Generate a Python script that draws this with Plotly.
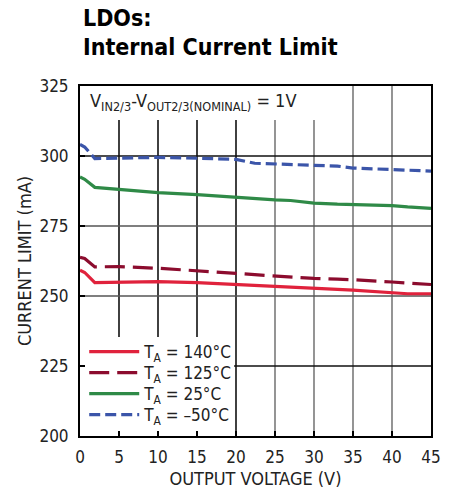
import plotly.graph_objects as go

# Output voltage (V) sample points
vout = [0, 0.6, 1.9, 5, 10, 15, 20, 22.4, 25, 27, 30, 33, 35, 40, 42, 45]

# Current limit (mA) per ambient temperature
i_140 = [259.2, 258.4, 254.8, 255.0, 255.1, 254.8, 254.2, 253.7, 253.4, 253.2, 252.9, 252.4, 252.1, 251.3, 250.8, 250.8]
i_125 = [263.8, 263.4, 260.4, 260.5, 259.9, 259.1, 258.1, 257.6, 257.1, 256.8, 256.3, 256.0, 255.8, 255.0, 254.7, 254.1]
i_25 = [292.5, 291.7, 288.8, 288.0, 286.9, 286.2, 285.2, 284.8, 284.3, 284.1, 283.2, 282.8, 282.6, 282.3, 281.8, 281.3]
i_m50 = [304.1, 303.2, 299.1, 299.3, 299.5, 299.2, 298.8, 297.4, 297.1, 296.9, 296.6, 296.4, 295.7, 295.2, 294.9, 294.6]

x_ticks = [0, 5, 10, 15, 20, 25, 30, 35, 40, 45]
y_ticks = [200, 225, 250, 275, 300, 325]

series = [
    ("T<sub>A</sub> = 140°C", i_140, "#e0223c", "solid"),
    ("T<sub>A</sub> = 125°C", i_125, "#8c0c2e", "20px,8px"),
    ("T<sub>A</sub> = 25°C", i_25, "#2f8a47", "solid"),
    ("T<sub>A</sub> = –50°C", i_m50, "#3b55a9", "11px,5px"),
]

FONT = "DejaVu Sans Condensed, Liberation Sans Narrow, Arial Narrow, sans-serif"

# one single-entry legend per curve so the rows can sit tightly stacked
legend_names = ["legend", "legend2", "legend3", "legend4"]
legend_rows = [0.24, 0.18, 0.12, 0.06]

fig = go.Figure()
for (name, vals, color, dash), lg in zip(series, legend_names):
    fig.add_trace(go.Scatter(
        x=vout, y=vals, mode="lines", name=name, legend=lg,
        line=dict(color=color, width=3.2, dash=dash),
    ))

# Grid lines (left half drawn darker than right half)
shapes = []
for xv in x_ticks[1:-1]:
    shapes.append(dict(type="line", xref="x", yref="y domain", x0=xv, x1=xv, y0=0, y1=1,
                       line=dict(color="#111111" if xv <= 20 else "#7a7a7a", width=1.6),
                       layer="below"))
for yv in y_ticks[1:-1]:
    shapes.append(dict(type="line", xref="x domain", yref="y", x0=0, x1=1, y0=yv, y1=yv,
                       line=dict(color="#555555" if yv in (250, 275) else "#111111", width=1.6),
                       layer="below"))
# White panels behind the condition note and the legend
shapes.append(dict(type="rect", xref="x domain", yref="y domain", x0=0, x1=0.684, y0=0.903, y1=1,
                   fillcolor="white", line=dict(width=0), layer="below"))
shapes.append(dict(type="rect", xref="x domain", yref="y domain", x0=0, x1=0.439, y0=0, y1=0.283,
                   fillcolor="white", line=dict(width=0), layer="below"))

annotations = [
    dict(text="<b>LDOs:</b>", xref="paper", yref="paper", x=0.004, y=1.193,
         xanchor="left", yanchor="middle", showarrow=False,
         font=dict(family=FONT, size=23, color="black")),
    dict(text="<b>Internal Current Limit</b>", xref="paper", yref="paper", x=0.004, y=1.110,
         xanchor="left", yanchor="middle", showarrow=False,
         font=dict(family=FONT, size=23, color="black")),
    dict(text="V<sub>IN2/3</sub>-V<sub>OUT2/3(NOMINAL)</sub> = 1V", xref="paper", yref="paper",
         x=0.024, y=0.953, xanchor="left", yanchor="middle", showarrow=False,
         font=dict(family=FONT, size=18, color="#222222")),
]

layout_legends = {}
for lg, yrow in zip(legend_names, legend_rows):
    layout_legends[lg] = dict(
        x=0.012, y=yrow, xanchor="left", yanchor="middle",
        bgcolor="rgba(0,0,0,0)", borderwidth=0, itemwidth=50,
        font=dict(family=FONT, size=17, color="#222222"),
    )

fig.update_layout(
    width=455, height=489,
    margin=dict(l=80, r=24, t=86, b=53),
    paper_bgcolor="white", plot_bgcolor="white",
    font=dict(family=FONT, size=17, color="#222222"),
    shapes=shapes,
    annotations=annotations,
    showlegend=True,
    **layout_legends,
)
fig.update_xaxes(
    range=[0, 45], tickvals=x_ticks, showgrid=False, zeroline=False, automargin=False,
    showline=True, mirror=True, linecolor="black", linewidth=2,
    ticks="inside", ticklen=5, tickcolor="black", tickwidth=1.5, ticklabelstandoff=5,
    tickfont=dict(family=FONT, size=17, color="#222222"),
    title=dict(text="OUTPUT VOLTAGE (V)", font=dict(family=FONT, size=18, color="#222222"), standoff=12),
)
fig.update_yaxes(
    range=[200, 325], tickvals=y_ticks, showgrid=False, zeroline=False, automargin=False,
    showline=True, mirror=True, linecolor="black", linewidth=2,
    ticks="inside", ticklen=5, tickcolor="black", tickwidth=1.5, ticklabelstandoff=6,
    tickfont=dict(family=FONT, size=17, color="#222222"),
    title=dict(text="CURRENT LIMIT (mA)", font=dict(family=FONT, size=18, color="#222222"), standoff=3),
)

fig.write_html("out.html")
